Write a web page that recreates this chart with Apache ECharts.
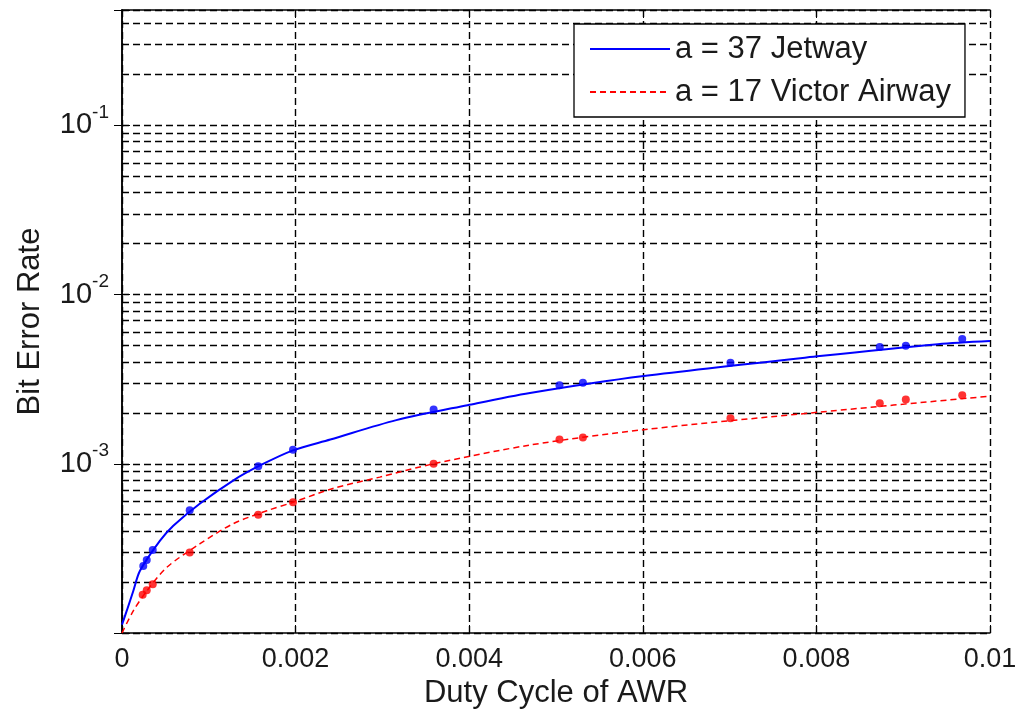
<!DOCTYPE html>
<html>
<head>
<meta charset="utf-8">
<script src="https://cdn.jsdelivr.net/npm/echarts@6/dist/echarts.min.js"></script>
<style>
  html, body { margin: 0; padding: 0; background: #fff; }
  #chart { width: 1023px; height: 717px; }
</style>
</head>
<body>
<div id="chart"></div>
<script>
var FONT = "'Liberation Sans', Arial, sans-serif";
var TXT = "#1a1a1a";

// measured points (x = duty cycle, y = BER)
var JET_PTS_X = [0.000245, 0.000285, 0.000354, 0.00078, 0.00157, 0.00197, 0.00359, 0.00504, 0.00531, 0.00701, 0.00873, 0.00903, 0.00968];
var JET_PTS_Y = [2.49e-4, 2.70e-4, 3.09e-4, 5.31e-4, 9.68e-4, 1.21e-3, 2.09e-3, 2.91e-3, 3.01e-3, 3.95e-3, 4.90e-3, 4.98e-3, 5.46e-3];
var VIC_PTS_X = [0.000238, 0.000285, 0.000354, 0.00078, 0.00157, 0.00197, 0.00359, 0.00504, 0.00531, 0.00701, 0.00873, 0.00903, 0.00968];
var VIC_PTS_Y = [1.68e-4, 1.79e-4, 1.94e-4, 2.99e-4, 5.00e-4, 5.92e-4, 1.00e-3, 1.39e-3, 1.43e-3, 1.86e-3, 2.28e-3, 2.40e-3, 2.54e-3];

// fitted curves
var JET_CURVE_X = [0, 0.000054, 0.00013, 0.000207, 0.000438, 0.000591, 0.000899, 0.00128, 0.00159, 0.00197, 0.0024, 0.00316, 0.00398, 0.0047, 0.00601, 0.00804, 0.0094, 0.01];
var JET_CURVE_Y = [1.12e-4, 1.35e-4, 1.77e-4, 2.33e-4, 3.51e-4, 4.30e-4, 5.82e-4, 7.96e-4, 9.77e-4, 1.20e-3, 1.39e-3, 1.81e-3, 2.22e-3, 2.62e-3, 3.30e-3, 4.33e-3, 5.09e-3, 5.31e-3];
var VIC_CURVE_X = [0, 0.00013, 0.000285, 0.000515, 0.000899, 0.00128, 0.00167, 0.00197, 0.00243, 0.00297, 0.00359, 0.0047, 0.00601, 0.00804, 0.01];
var VIC_CURVE_Y = [1.0e-4, 1.35e-4, 1.77e-4, 2.44e-4, 3.37e-4, 4.42e-4, 5.28e-4, 5.92e-4, 7.15e-4, 8.34e-4, 1.00e-3, 1.29e-3, 1.59e-3, 2.02e-3, 2.51e-3];

var SERIES_NAMES = ["a = 37 Jetway", "a = 17 Victor Airway"];
var X_TITLE = "Duty Cycle of AWR";
var Y_TITLE = "Bit Error Rate";
var MINOR_GRID = [2e-4, 3e-4, 4e-4, 5e-4, 6e-4, 7e-4, 8e-4, 9e-4,
                  2e-3, 3e-3, 4e-3, 5e-3, 6e-3, 7e-3, 8e-3, 9e-3,
                  2e-2, 3e-2, 4e-2, 5e-2, 6e-2, 7e-2, 8e-2, 9e-2,
                  2e-1, 3e-1, 4e-1];

function zip(xs, ys) {
  return xs.map(function(x, i) { return [x, ys[i]]; });
}

var gridLine = { color: "#000", width: 1.4, type: [7, 4] };
var solidIcon = "path://M0,0h80v2h-80z";
var dashIcon = "path://M0,0h6v2h-6zM10,0h6v2h-6zM20,0h6v2h-6zM30,0h6v2h-6zM40,0h6v2h-6zM50,0h6v2h-6zM60,0h6v2h-6zM70,0h6v2h-6zM80,0h0.01v2h-0.01z";

var chart = echarts.init(document.getElementById("chart"));
chart.setOption({
  animation: false,
  grid: { left: 122, right: 33, top: 10, bottom: 84, show: false },
  legend: {
    data: [
      { name: SERIES_NAMES[0], icon: solidIcon, itemStyle: { color: "#0000ff" } },
      { name: SERIES_NAMES[1], icon: dashIcon, itemStyle: { color: "#ff0000" } }
    ],
    orient: "vertical",
    left: 574, top: 24,
    padding: [9, 14, 9, 16],
    itemWidth: 80, itemHeight: 2, itemGap: 11,
    symbolKeepAspect: false,
    backgroundColor: "#fff",
    borderColor: "#000", borderWidth: 1.3,
    textStyle: { fontFamily: FONT, fontSize: 31, color: TXT, lineHeight: 32 },
    z: 20
  },
  xAxis: [{
    type: "value", min: 0, max: 0.01, interval: 0.002,
    name: X_TITLE, nameLocation: "middle", nameGap: 43,
    nameTextStyle: { fontFamily: FONT, fontSize: 31, color: TXT },
    axisLine: { lineStyle: { color: "#000", width: 1.5 } },
    axisTick: { inside: true, length: 8, lineStyle: { color: "#000" } },
    axisLabel: { fontFamily: FONT, fontSize: 27, color: TXT, margin: 13 },
    splitLine: { show: true, lineStyle: gridLine }
  }, {
    type: "value", min: 0, max: 0.01, interval: 0.002, position: "top",
    axisLine: { lineStyle: { color: "#000", width: 1.5 } },
    axisTick: { inside: true, length: 8, lineStyle: { color: "#000" } },
    axisLabel: { show: false }, splitLine: { show: false }
  }],
  yAxis: [{
    type: "log", logBase: 10, min: 1e-4, max: 0.48,
    name: Y_TITLE, nameLocation: "middle", nameGap: 76,
    nameTextStyle: { fontFamily: FONT, fontSize: 31, color: TXT },
    axisLine: { lineStyle: { color: "#000", width: 1.5 } },
    axisTick: { inside: true, length: 8, lineStyle: { color: "#000" } },
    axisLabel: {
      margin: 13,
      formatter: function(v) {
        var e = Math.round(Math.log10(v));
        if (Math.abs(Math.log10(v) - e) > 1e-6 || e <= -4 || e >= 0) return "";
        return "{b|10}{s|" + e + "}";
      },
      rich: {
        b: { fontFamily: FONT, fontSize: 29, color: TXT, padding: [8, 0, 8, 0], verticalAlign: "bottom" },
        s: { fontFamily: FONT, fontSize: 19, color: TXT, verticalAlign: "top" }
      }
    },
    splitLine: { show: true, lineStyle: gridLine }
  }, {
    type: "log", logBase: 10, min: 1e-4, max: 0.48, position: "right",
    axisLine: { show: true, lineStyle: { color: "#000", width: 1.5 } },
    axisTick: { show: true, inside: true, length: 8, lineStyle: { color: "#000" } },
    axisLabel: { show: false }, splitLine: { show: false }
  }],
  series: [
    {
      name: "minor-grid", type: "line", data: [[0, 1e-4], [0.01, 1e-4]], symbol: "none",
      lineStyle: { opacity: 0 }, silent: true, z: 1,
      markLine: {
        silent: true, symbol: ["none", "none"], label: { show: false },
        precision: 10,
        lineStyle: gridLine, emphasis: { disabled: true },
        data: MINOR_GRID.map(function(v) { return { yAxis: v }; })
      }
    },
    {
      name: SERIES_NAMES[0], type: "line", data: zip(JET_CURVE_X, JET_CURVE_Y),
      symbol: "none", smooth: 0.3, z: 5,
      lineStyle: { color: "#0000ff", width: 2 }, itemStyle: { color: "#0000ff" }
    },
    {
      name: SERIES_NAMES[1], type: "line", data: zip(VIC_CURVE_X, VIC_CURVE_Y),
      symbol: "none", smooth: 0.3, z: 5,
      lineStyle: { color: "#ff0000", width: 1.5, type: [6, 4] }, itemStyle: { color: "#ff0000" }
    },
    {
      name: "jet-pts", type: "scatter", data: zip(JET_PTS_X, JET_PTS_Y),
      symbol: "circle", symbolSize: 8, z: 6, itemStyle: { color: "#0000ff" }
    },
    {
      name: "vic-pts", type: "scatter", data: zip(VIC_PTS_X, VIC_PTS_Y),
      symbol: "circle", symbolSize: 8, z: 6, itemStyle: { color: "#ff0000" }
    }
  ]
});
</script>
</body>
</html>
